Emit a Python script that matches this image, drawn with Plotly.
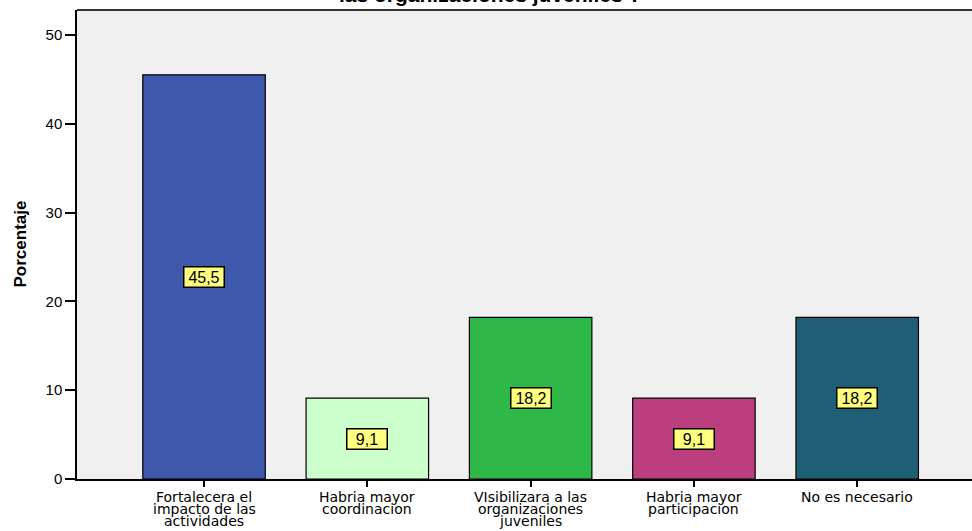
import plotly.graph_objects as go

# categories and values
categorias = [
    ["Fortalecera el", "impacto de las", "actividades"],
    ["Habria mayor", "coordinacion"],
    ["VIsibilizara a las", "organizaciones", "juveniles"],
    ["Habria mayor", "participacion"],
    ["No es necesario"],
]
porcentajes = [45.5, 9.1, 18.2, 9.1, 18.2]
etiquetas = ["45,5", "9,1", "18,2", "9,1", "18,2"]
colores = ["#3E58AC", "#CCFFCC", "#2EB848", "#BB3F7F", "#1E5F75"]
titulo = "las organizaciones juveniles ?"
y_ticks = [0, 10, 20, 30, 40, 50]

fig = go.Figure()

fig.add_trace(go.Bar(
    x=list(range(len(categorias))),
    y=porcentajes,
    width=0.75,
    marker=dict(color=colores, line=dict(color="black", width=1.2)),
    hoverinfo="skip",
))

# yellow value boxes at half the bar height
for i, (v, t) in enumerate(zip(porcentajes, etiquetas)):
    fig.add_annotation(
        x=i, y=v / 2, text=t, showarrow=False,
        font=dict(family="Arial", size=16, color="black"),
        bgcolor="#FFFF80", bordercolor="black", borderwidth=1.5, borderpad=1,
        width=37, height=17,
    )

# category labels, one annotation per line to keep the spacing tight
for i, lineas in enumerate(categorias):
    for j, linea in enumerate(lineas):
        fig.add_annotation(
            x=i, xref="x", yref="paper", y=0, yshift=-18 - 12 * j,
            xanchor="center", yanchor="middle",
            text=linea, showarrow=False,
            font=dict(family="DejaVu Sans", size=14, color="black"),
        )

# y axis title
fig.add_annotation(
    xref="paper", yref="paper", x=0, xshift=-57, y=0.5,
    xanchor="center", yanchor="middle", textangle=-90,
    text="<b>Porcentaje</b>", showarrow=False,
    font=dict(family="Arial", size=17, color="black"),
)

# title, mostly cut off at the top of the page
fig.add_annotation(
    xref="paper", yref="paper", x=0, xshift=413, y=1.032,
    xanchor="center", yanchor="middle",
    text="<b>" + titulo + "</b>", showarrow=False,
    font=dict(family="Arial", size=21, color="black"),
)

# top border of the plot frame
fig.add_shape(type="line", xref="paper", yref="paper", x0=0, x1=1, y0=1, y1=1,
              line=dict(color="#333333", width=2))

fig.update_layout(
    width=972, height=531,
    margin=dict(l=77, r=0, t=10, b=52),
    paper_bgcolor="white",
    plot_bgcolor="#F0F0F0",
    showlegend=False,
    font=dict(family="Arial", size=14, color="black"),
)

fig.update_xaxes(
    range=[-0.778, 4.703],
    tickmode="array", tickvals=list(range(len(categorias))), ticktext=[""] * len(categorias),
    ticks="outside", ticklen=6, tickcolor="black", tickwidth=1.5,
    showline=True, linecolor="black", linewidth=1.5,
    showgrid=False, zeroline=False, automargin=False,
)

fig.update_yaxes(
    range=[0, 52.8],
    tickvals=y_ticks,
    ticks="outside", ticklen=10, tickcolor="black", tickwidth=1.5,
    showline=True, linecolor="black", linewidth=1.5,
    showgrid=False, zeroline=False, automargin=False,
    tickfont=dict(family="Arial", size=15),
)

fig.write_html("out.html", config={"displayModeBar": False},
               post_script="document.body.style.margin='0';")
